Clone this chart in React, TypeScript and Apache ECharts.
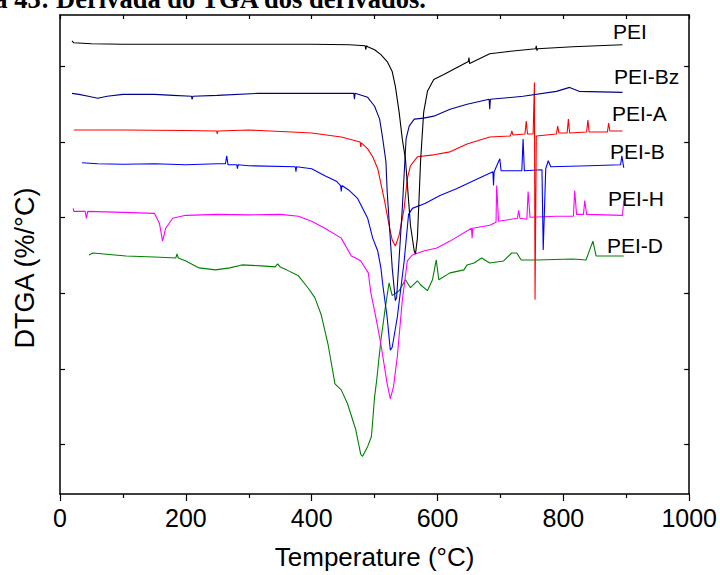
import React, { useEffect, useRef } from "react";
import * as echarts from "echarts";

// Temperature (°C) vs DTGA (arbitrary offset units)
const xTicks = [0, 200, 400, 600, 800, 1000];
const yTickValues = [5, 12.6, 20.2, 27.9, 35.5, 43.1];

const seriesNames = ["PEI", "PEI-Bz", "PEI-A", "PEI-B", "PEI-H", "PEI-D"];
const seriesColors = ["#000000", "#00008b", "#ff0000", "#0000ff", "#ff00ff", "#008000"];

const pei: number[][] = [
  [19, 45.7], [22, 45.5], [50, 45.4], [100, 45.35], [200, 45.35], [300, 45.35], [400, 45.35],
  [460, 45.3], [485, 45.2], [486, 44.8], [487, 45.2], [489, 45.1], [500, 44.8], [510, 44.3],
  [520, 43.6], [528, 42.6], [533, 41.1], [539, 38.5], [544, 35.8], [549, 33.8], [557, 27.1],
  [563, 24.5], [565, 24.2], [568, 25.8], [571, 30.3], [573, 33.5], [578, 38.5], [584, 40.6],
  [594, 41.8], [610, 42.3], [631, 43.0], [649, 43.6], [650, 44.0], [651, 43.4], [683, 44.4],
  [710, 44.6], [756, 44.9], [757, 45.2], [758, 44.7], [759, 44.9], [815, 45.1], [894, 45.3],
];

const peiBz: number[][] = [
  [19, 40.4], [30, 40.3], [45, 40.1], [60, 39.9], [75, 40.1], [100, 40.3], [150, 40.3],
  [180, 40.2], [209, 40.1], [210, 39.8], [211, 40.1], [250, 40.2], [315, 40.4], [400, 40.4],
  [467, 40.4], [468, 39.8], [469, 40.4], [489, 40.0], [500, 39.1], [508, 37.8], [513, 35.8],
  [518, 33.5], [520, 30.5], [528, 22.8], [533, 19.5], [535, 19.8], [539, 23.8], [544, 28.8],
  [547, 32.3], [550, 35.8], [555, 37.1], [563, 37.8], [578, 37.9], [594, 38.1], [620, 38.8],
  [647, 39.3], [682, 39.8], [683, 38.8], [684, 39.8], [736, 40.1], [789, 40.6], [810, 41.0],
  [825, 40.6], [894, 40.5],
];

const peiA: number[][] = [
  [22, 36.7], [100, 36.7], [200, 36.65], [249, 36.6], [250, 36.3], [251, 36.6], [300, 36.7],
  [368, 36.5], [400, 36.4], [447, 36.0], [477, 35.5], [478, 35.0], [479, 35.4], [489, 34.8],
  [497, 34.0], [505, 32.8], [516, 29.5], [523, 27.1], [528, 25.6], [533, 25.0], [539, 26.1],
  [547, 28.8], [552, 31.8], [557, 33.1], [568, 34.0], [594, 34.2], [620, 34.5], [647, 35.3],
  [683, 36.0], [716, 36.1], [718, 36.6], [720, 36.2], [739, 36.3], [741, 37.6], [743, 36.3],
  [752, 36.3], [754, 41.5], [755, 19.6], [757, 36.1], [789, 36.3], [791, 37.1], [793, 36.4],
  [806, 36.4], [808, 37.8], [810, 36.4], [837, 36.5], [839, 37.7], [841, 36.5], [870, 36.5],
  [872, 37.4], [874, 36.6], [894, 36.6],
];

const peiB: number[][] = [
  [35, 33.4], [60, 33.3], [100, 33.25], [150, 33.3], [200, 33.2], [250, 33.3], [263, 33.3],
  [265, 34.1], [267, 33.2], [281, 33.2], [282, 32.8], [283, 33.2], [300, 33.1], [374, 33.0],
  [375, 32.5], [376, 33.0], [400, 32.8], [421, 32.1], [440, 31.5], [446, 31.1], [447, 30.5],
  [448, 31.1], [460, 30.6], [473, 29.8], [489, 27.8], [497, 25.8], [505, 24.5], [510, 22.8],
  [513, 21.1], [520, 17.8], [525, 14.5], [528, 14.8], [536, 17.8], [547, 23.5], [554, 28.2],
  [560, 28.8], [580, 29.3], [604, 30.1], [631, 30.8], [658, 31.6], [688, 32.5], [689, 31.1],
  [690, 32.5], [699, 33.8], [701, 32.6], [734, 32.6], [736, 35.8], [738, 32.6], [766, 32.7],
  [768, 24.6], [772, 32.8], [776, 33.6], [780, 33.0], [841, 33.1], [891, 33.2], [893, 34.1],
  [896, 32.9],
];

const peiH: number[][] = [
  [21, 28.8], [22, 28.5], [40, 28.5], [42, 27.8], [44, 28.5], [100, 28.4], [150, 28.3],
  [158, 27.3], [163, 25.5], [168, 26.8], [179, 27.8], [200, 28.1], [250, 28.2], [300, 28.15],
  [350, 28.2], [379, 28.0], [400, 27.5], [421, 26.8], [447, 25.8], [463, 24.0], [470, 23.8],
  [478, 23.5], [490, 22.3], [494, 20.3], [502, 17.8], [510, 15.1], [520, 11.1], [525, 9.6],
  [530, 10.8], [536, 13.8], [544, 19.5], [552, 23.5], [560, 24.1], [578, 24.5], [599, 24.8],
  [620, 25.5], [654, 26.8], [655, 25.8], [656, 26.8], [683, 27.1], [693, 27.4], [694, 31.1],
  [697, 27.5], [727, 27.8], [729, 28.6], [731, 27.8], [742, 27.7], [744, 30.5], [747, 27.9],
  [789, 28.0], [816, 28.0], [818, 30.6], [821, 28.2], [832, 28.2], [834, 29.6], [837, 28.2],
  [894, 28.1], [896, 29.6],
];

const peiD: number[][] = [
  [46, 24.1], [52, 24.3], [105, 24.0], [150, 23.9], [184, 23.8], [186, 24.2], [188, 23.8],
  [200, 23.5], [221, 22.8], [247, 22.6], [270, 22.8], [289, 23.1], [320, 23.0], [342, 22.9],
  [346, 23.2], [350, 22.9], [360, 22.6], [379, 22.0], [394, 20.8], [405, 19.8], [415, 18.1],
  [426, 15.1], [437, 11.1], [447, 10.5], [457, 9.1], [470, 6.5], [478, 4.0], [481, 3.8],
  [489, 4.8], [495, 5.8], [500, 9.8], [503, 11.3], [510, 15.5], [517, 18.8], [523, 21.3],
  [528, 20.0], [539, 20.5], [549, 21.6], [557, 20.8], [568, 21.5], [573, 21.1], [584, 20.5],
  [592, 21.6], [598, 23.6], [602, 21.6], [620, 22.3], [642, 22.6], [647, 23.1], [658, 23.3],
  [670, 23.8], [683, 23.3], [705, 23.5], [718, 24.3], [726, 24.3], [733, 23.6], [757, 23.6],
  [815, 23.7], [836, 23.6], [847, 25.5], [852, 24.0], [896, 24.0],
];

const allSeries = [pei, peiBz, peiA, peiB, peiH, peiD];

// label anchor positions (left x, centre y) in pixels
const labelPos = [
  [613, 31], [614, 76], [612, 113], [610, 151], [608, 198], [607, 245],
];

export default function App() {
  const ref = useRef<HTMLDivElement>(null);
  useEffect(() => {
    if (!ref.current) return;
    const chart = echarts.init(ref.current, undefined, { renderer: "svg" });
    const axisLine = { show: true, onZero: false, lineStyle: { color: "#000", width: 1.5 } };
    const sans = "'Liberation Sans', Arial, sans-serif";
    chart.setOption({
      animation: false,
      backgroundColor: "#fff",
      grid: { left: 60, right: 26, top: 15, bottom: 77, containLabel: false },
      xAxis: [
        {
          type: "value", position: "bottom", min: 0, max: 1000, interval: 200,
          axisLine,
          axisTick: { show: true, inside: false, length: 7, lineStyle: { color: "#000", width: 1.2 } },
          minorTick: { show: true, splitNumber: 2, length: 4, lineStyle: { color: "#000", width: 1.2 } },
          axisLabel: {
            show: true, color: "#000", fontSize: 25, fontFamily: sans, margin: 11,
            customValues: xTicks,
            formatter: (v: number) => String(v),
          },
          splitLine: { show: false },
          name: "Temperature (°C)", nameLocation: "middle", nameGap: 50,
          nameTextStyle: { color: "#000", fontSize: 26, fontFamily: sans },
        },
        {
          type: "value", position: "top", min: 0, max: 1000, interval: 200,
          axisLine,
          axisTick: { show: true, inside: true, length: 4, lineStyle: { color: "#000", width: 1.2 } },
          minorTick: { show: true, splitNumber: 2, length: 4, lineStyle: { color: "#000", width: 1.2 } },
          axisLabel: { show: false },
          splitLine: { show: false },
        },
      ],
      yAxis: [
        {
          type: "value", position: "left", min: 0, max: 48.3,
          axisLine,
          axisTick: { show: true, inside: true, length: 5, customValues: yTickValues, lineStyle: { color: "#000", width: 1.2 } },
          axisLabel: { show: false },
          splitLine: { show: false },
        },
        {
          type: "value", position: "right", min: 0, max: 48.3,
          axisLine,
          axisTick: { show: true, inside: true, length: 5, customValues: yTickValues, lineStyle: { color: "#000", width: 1.2 } },
          axisLabel: { show: false },
          splitLine: { show: false },
        },
      ],
      series: allSeries.map((d, i) => ({
        name: seriesNames[i],
        type: "line",
        data: d,
        xAxisIndex: 0,
        yAxisIndex: 0,
        showSymbol: false,
        symbol: "none",
        smooth: false,
        lineStyle: { color: seriesColors[i], width: 1.1 },
        itemStyle: { color: seriesColors[i] },
        z: 2 + (5 - i),
      })),
      graphic: [
        {
          type: "text", left: -69, top: -15,
          style: {
            text: "Figura 43: Derivada do TGA dos derivados.",
            font: "bold 26.5px 'Liberation Serif', 'Times New Roman', serif",
            fill: "#000",
          },
        },
        {
          type: "text", x: 25, y: 268, rotation: Math.PI / 2,
          style: {
            text: "DTGA (%/°C)",
            font: `27px ${sans}`,
            fill: "#000",
            textAlign: "center",
            textVerticalAlign: "middle",
          },
        },
        ...seriesNames.map((n, i) => ({
          type: "text",
          x: labelPos[i][0],
          y: labelPos[i][1],
          style: {
            text: n,
            font: `21px ${sans}`,
            fill: "#000",
            textAlign: "left",
            textVerticalAlign: "middle",
          },
        })),
      ],
    });
    return () => chart.dispose();
  }, []);
  return <div ref={ref} style={{ width: 720, height: 575, position: "absolute", left: 0, top: 0 }} />;
}
